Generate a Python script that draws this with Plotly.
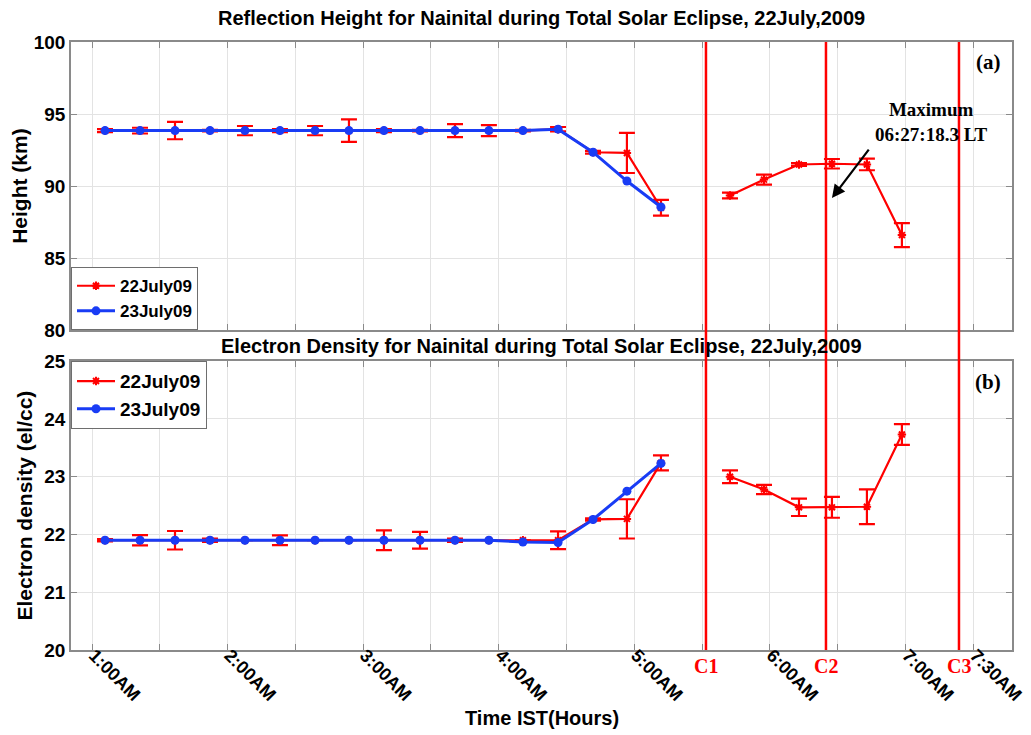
import plotly.graph_objects as go

# ---- data (time in decimal hours IST) ----
t_pre = [1.096, 1.354, 1.612, 1.870, 2.128, 2.386, 2.645, 2.895, 3.153, 3.419,
         3.677, 3.927, 4.178, 4.437, 4.695, 4.945, 5.196]
t_post = [5.705, 5.956, 6.214, 6.457, 6.715, 6.973]

h22_pre = [93.85, 93.85, 93.85, 93.85, 93.85, 93.85, 93.85, 93.85, 93.85, 93.85,
           93.85, 93.85, 93.85, 93.95, 92.35, 92.3, 88.5]
h22_pre_err = [0.1, 0.2, 0.6, 0.05, 0.32, 0.1, 0.32, 0.78, 0.1, 0.05,
               0.45, 0.38, 0.05, 0.15, 0.1, 1.39, 0.55]
h22_post = [89.35, 90.45, 91.5, 91.55, 91.5, 86.6]
h22_post_err = [0.2, 0.35, 0.1, 0.33, 0.4, 0.83]
h23 = [93.85, 93.85, 93.85, 93.85, 93.85, 93.85, 93.85, 93.85, 93.85, 93.85,
       93.85, 93.85, 93.85, 93.95, 92.35, 90.35, 88.55]

d22_pre = [21.9, 21.9, 21.9, 21.9, 21.9, 21.9, 21.9, 21.9, 21.9, 21.9,
           21.9, 21.9, 21.9, 21.9, 22.26, 22.27, 23.24]
d22_pre_err = [0.02, 0.09, 0.16, 0.03, 0.0, 0.085, 0.0, 0.0, 0.17, 0.145,
               0.03, 0.0, 0.0, 0.155, 0.02, 0.34, 0.13]
d22_post = [23.0, 22.78, 22.47, 22.47, 22.48, 23.73]
d22_post_err = [0.11, 0.08, 0.15, 0.18, 0.3, 0.18]
d23 = [21.9, 21.9, 21.9, 21.9, 21.9, 21.9, 21.9, 21.9, 21.9, 21.9,
       21.9, 21.9, 21.87, 21.86, 22.26, 22.75, 23.23]

contacts = [5.528, 6.413, 7.394]
contact_labels = ["C1", "C2", "C3"]

tick_vals = [1.0, 1.5, 2.0, 2.5, 3.0, 3.5, 4.0, 4.5, 5.0, 5.5, 6.0, 6.5, 7.0, 7.5]
tick_text = ["1:00AM", "", "2:00AM", "", "3:00AM", "", "4:00AM", "", "5:00AM",
             "", "6:00AM", "", "7:00AM", "7:30AM"]
h_ticks = [80, 85, 90, 95, 100]
d_ticks = [20, 21, 22, 23, 24, 25]

max_label = "Maximum<br>06:27:18.3 LT"
arrow_tip = (6.457, 89.17)
arrow_tail = (6.737, 92.64)

RED = "rgb(255,0,0)"
BLUE = "rgb(25,60,245)"
SANS = "Liberation Sans, Arial, sans-serif"
SERIF = "Liberation Serif, Times New Roman, serif"

x_red = t_pre + [None] + t_post

fig = go.Figure()

# top panel
fig.add_trace(go.Scatter(
    x=x_red, y=h22_pre + [None] + h22_post, name="<b>22July09</b>", mode="lines+markers",
    line=dict(color=RED, width=2.2),
    marker=dict(symbol="asterisk", size=7, color=RED, line=dict(color=RED, width=2)),
    error_y=dict(type="data", array=h22_pre_err + [0] + h22_post_err, visible=True,
                 color=RED, thickness=2.2, width=8),
    xaxis="x", yaxis="y", legend="legend"))
fig.add_trace(go.Scatter(
    x=t_pre, y=h23, name="<b>23July09</b>", mode="lines+markers",
    line=dict(color=BLUE, width=3),
    marker=dict(symbol="circle", size=9, color=BLUE),
    xaxis="x", yaxis="y", legend="legend"))

# bottom panel
fig.add_trace(go.Scatter(
    x=x_red, y=d22_pre + [None] + d22_post, name="<b>22July09</b>", mode="lines+markers",
    line=dict(color=RED, width=2.2),
    marker=dict(symbol="asterisk", size=7, color=RED, line=dict(color=RED, width=2)),
    error_y=dict(type="data", array=d22_pre_err + [0] + d22_post_err, visible=True,
                 color=RED, thickness=2.2, width=8),
    xaxis="x2", yaxis="y2", legend="legend2"))
fig.add_trace(go.Scatter(
    x=t_pre, y=d23, name="<b>23July09</b>", mode="lines+markers",
    line=dict(color=BLUE, width=3),
    marker=dict(symbol="circle", size=9, color=BLUE),
    xaxis="x2", yaxis="y2", legend="legend2"))

common_x = dict(range=[0.845, 7.785], tickvals=tick_vals,
                showgrid=True, gridcolor="#e3e3e3", gridwidth=1,
                showline=True, linecolor="#8a8a8a", linewidth=1.5, mirror="ticks",
                ticks="inside", ticklen=6, tickcolor="#8a8a8a", zeroline=False,
                automargin=False)
common_y = dict(showgrid=True, gridcolor="#e3e3e3", gridwidth=1,
                showline=True, linecolor="#8a8a8a", linewidth=1.5, mirror="ticks",
                ticks="inside", ticklen=6, tickcolor="#8a8a8a", zeroline=False,
                automargin=False,
                tickfont=dict(family=SANS, size=19, color="black"))

# page body has an 8px margin; size/margins compensate so the plot area
# lands at x 71..1012, y 42..650 of the 1031x735 window
fig.update_layout(
    width=1023, height=727,
    margin=dict(l=63, r=19, t=34, b=85),
    paper_bgcolor="white", plot_bgcolor="white",
    font=dict(family=SANS, color="black"),
    xaxis=dict(**common_x, domain=[0, 1], anchor="y", showticklabels=False),
    yaxis=dict(**common_y, domain=[0.526, 1], range=[80, 100], anchor="x",
               tickvals=h_ticks, ticktext=["<b>%d</b>" % v for v in h_ticks],
               title=dict(text="<b>Height (km)</b>", font=dict(size=21), standoff=6)),
    xaxis2=dict(**common_x, domain=[0, 1], anchor="y2", tickangle=45,
                ticktext=["<b>%s</b>" % s if s else "" for s in tick_text],
                tickfont=dict(family=SANS, size=18, color="black"),
                ticklabelstandoff=-14, ticklabelshift=2, ticklabeloverflow="allow"),
    yaxis2=dict(**common_y, domain=[0, 0.475], range=[20, 25], anchor="x2",
                tickvals=d_ticks, ticktext=["<b>%d</b>" % v for v in d_ticks],
                title=dict(text="<b>Electron density (el/cc)</b>", font=dict(size=21), standoff=6)),
    legend=dict(x=0, y=0.526, xanchor="left", yanchor="bottom",
                bgcolor="white", bordercolor="#6e6e6e", borderwidth=1,
                font=dict(family=SANS, size=17), tracegroupgap=0, itemwidth=38),
    legend2=dict(x=0, y=0.475, xanchor="left", yanchor="top",
                 bgcolor="white", bordercolor="#6e6e6e", borderwidth=1,
                 font=dict(family=SANS, size=19), tracegroupgap=0, itemwidth=38),
    showlegend=True,
)

# x axis title
fig.add_annotation(x=0.5, y=-0.112, xref="paper", yref="paper", showarrow=False,
                   text="<b>Time IST(Hours)</b>", yanchor="middle",
                   font=dict(family=SANS, size=20, color="black"))

# contact lines
for c, lab in zip(contacts, contact_labels):
    fig.add_shape(type="line", xref="x2", yref="paper", x0=c, x1=c, y0=0, y1=1,
                  line=dict(color=RED, width=2.5), layer="above")
    fig.add_annotation(x=c, y=-0.026, xref="x2", yref="paper", text="<b>%s</b>" % lab,
                       showarrow=False, yanchor="middle",
                       font=dict(family=SERIF, size=20, color=RED))

# titles
fig.add_annotation(x=0.5, y=1.04, xref="paper", yref="paper", showarrow=False,
                   text="<b>Reflection Height for Nainital during Total Solar Eclipse, 22July,2009</b>",
                   font=dict(family=SANS, size=20, color="black"), yanchor="middle")
fig.add_annotation(x=0.5, y=0.5, xref="paper", yref="paper", showarrow=False,
                   text="<b>Electron Density for Nainital during Total Solar Eclipse, 22July,2009</b>",
                   font=dict(family=SANS, size=20, color="black"), yanchor="middle")

# panel labels
fig.add_annotation(x=0.99, y=0.967, xref="paper", yref="paper", showarrow=False,
                   text="<b>(a)</b>", xanchor="right", yanchor="middle",
                   font=dict(family=SERIF, size=21, color="black"))
fig.add_annotation(x=0.99, y=0.441, xref="paper", yref="paper", showarrow=False,
                   text="<b>(b)</b>", xanchor="right", yanchor="middle",
                   font=dict(family=SERIF, size=21, color="black"))

# maximum annotation
fig.add_annotation(x=arrow_tip[0], y=arrow_tip[1], ax=arrow_tail[0], ay=arrow_tail[1],
                   xref="x", yref="y", axref="x", ayref="y", text="",
                   showarrow=True, arrowhead=2, arrowsize=1.2, arrowwidth=2.2,
                   arrowcolor="black")
fig.add_annotation(x=7.19, y=92.7, xref="x", yref="y", showarrow=False,
                   text="<b>%s</b>" % max_label, align="center", yanchor="bottom",
                   font=dict(family=SERIF, size=19, color="black"))

fig.write_html("out.html")
